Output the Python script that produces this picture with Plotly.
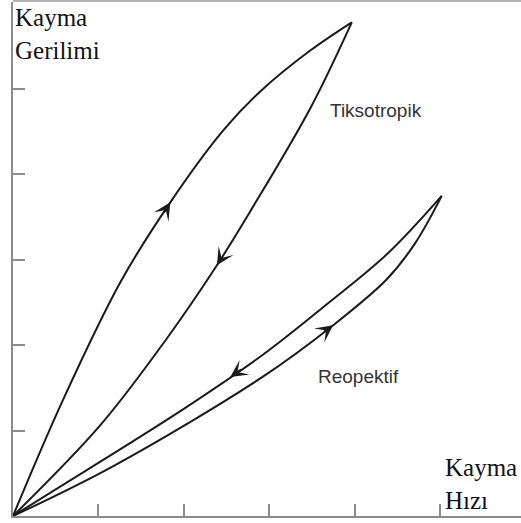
import plotly.graph_objects as go

# Curves (x = shear rate, y = shear stress; 1 unit = one tick step)
tikso_up_x = [0, 0.579, 1.257, 1.842, 2.462, 2.895, 3.480, 3.967]
tikso_up_y = [0, 1.345, 2.737, 3.673, 4.515, 4.971, 5.450, 5.781]

tikso_down_x = [3.967, 3.480, 2.778, 2.388, 1.795, 1.023, 0]
tikso_down_y = [5.781, 4.772, 3.567, 2.936, 2.070, 1.064, 0]

reo_up_x = [0, 1.164, 2.918, 3.749, 4.377, 4.708, 5.020]
reo_up_y = [0, 0.579, 1.626, 2.234, 2.772, 3.193, 3.749]

reo_down_x = [5.020, 4.377, 3.675, 2.918, 1.959, 1.164, 0]
reo_down_y = [3.749, 3.064, 2.480, 1.883, 1.228, 0.725, 0]

tick_vals = [1, 2, 3, 4, 5]

y_label = "Kayma<br>Gerilimi"
x_label = "Kayma<br>Hızı"
tikso_label = "Tiksotropik"
reo_label = "Reopektif"

# arrow positions: (segment index, fraction along segment)
arrow_specs = [
    (tikso_up_x, tikso_up_y, 2, 1.0),
    (tikso_down_x, tikso_down_y, 2, 1.0),
    (reo_up_x, reo_up_y, 2, 1.0),
    (reo_down_x, reo_down_y, 3, 0.39),
]

UNIT = 85.4
L, B, T = 13, 7, 2
W, H = 521, 523
x_max = (W - L) / UNIT
y_max = (H - B - T) / UNIT

curve_color = "#1a1a1a"
axis_color = "#8c8c8c"

fig = go.Figure()
for xs, ys in [(tikso_up_x, tikso_up_y), (tikso_down_x, tikso_down_y),
               (reo_up_x, reo_up_y), (reo_down_x, reo_down_y)]:
    fig.add_trace(go.Scatter(x=xs, y=ys, mode="lines",
                             line=dict(color=curve_color, width=2, shape="spline", smoothing=1.0),
                             hoverinfo="skip", showlegend=False))


def interp(xs, ys, i, t):
    return xs[i] + t * (xs[i + 1] - xs[i]), ys[i] + t * (ys[i + 1] - ys[i])


for xs, ys, i, t in arrow_specs:
    tx, ty = interp(xs, ys, i, t)
    sx, sy = interp(xs, ys, i, t - 0.15)
    fig.add_annotation(x=tx, y=ty, ax=sx, ay=sy, xref="x", yref="y", axref="x", ayref="y",
                       text="", showarrow=True, arrowhead=3, arrowsize=1.45,
                       arrowwidth=2, arrowcolor=curve_color)

serif = "Liberation Serif, Times New Roman, serif"
sans = "Liberation Sans, Arial, sans-serif"

fig.add_annotation(x=0.0, y=1.0, xref="paper", yref="paper", xanchor="left", yanchor="top",
                   text=y_label, showarrow=False, align="left",
                   font=dict(family=serif, size=25, color="#111111"))
fig.add_annotation(x=5.03, y=0.0, xref="x", yref="paper", xanchor="left", yanchor="bottom",
                   text=x_label, showarrow=False, align="left",
                   font=dict(family=serif, size=25, color="#111111"))
fig.add_annotation(x=4.25, y=4.75, xref="x", yref="y", xanchor="center", yanchor="middle",
                   text=tikso_label, showarrow=False,
                   font=dict(family=sans, size=19, color="#333333"))
fig.add_annotation(x=4.05, y=1.63, xref="x", yref="y", xanchor="center", yanchor="middle",
                   text=reo_label, showarrow=False,
                   font=dict(family=sans, size=19, color="#333333"))

# top border line
fig.add_shape(type="line", xref="paper", yref="paper", x0=0, x1=1.03, y0=1.002, y1=1.002,
              line=dict(color="#9a9a9a", width=1.5))

axis_common = dict(showgrid=False, zeroline=False, showticklabels=False,
                   ticks="inside", ticklen=12, tickwidth=1.5, tickcolor=axis_color,
                   showline=True, linecolor=axis_color, linewidth=2, tickvals=tick_vals,
                   fixedrange=True)
fig.update_xaxes(range=[0, x_max], **axis_common)
fig.update_yaxes(range=[0, y_max], **axis_common)

fig.update_layout(width=W, height=H, margin=dict(l=L, r=0, t=T, b=B, pad=0),
                  plot_bgcolor="white", paper_bgcolor="white", showlegend=False)

fig.write_html("out.html", config={"displayModeBar": False},
               post_script="document.body.style.margin='0';document.body.style.overflow='hidden';")
